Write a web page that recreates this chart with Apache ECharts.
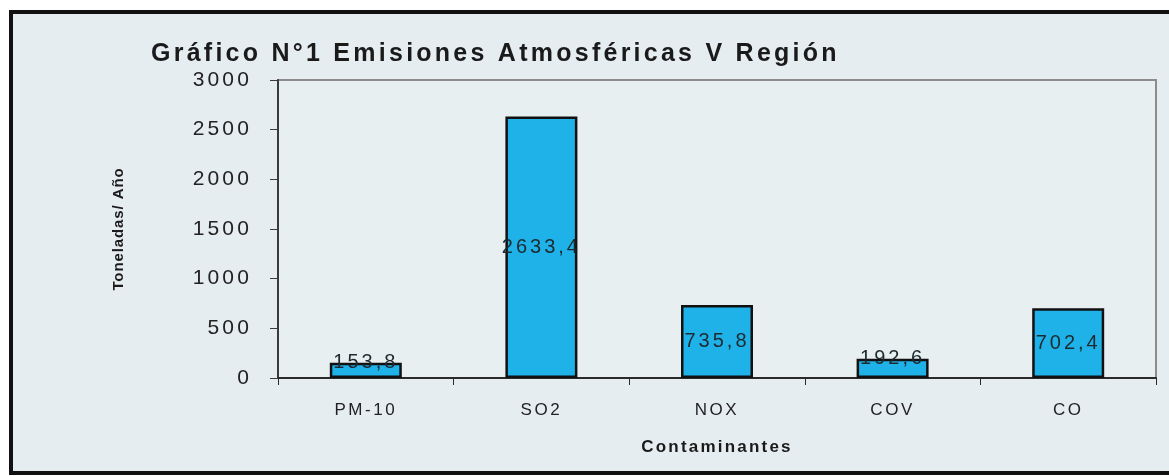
<!DOCTYPE html>
<html>
<head>
<meta charset="utf-8">
<script src="https://cdn.jsdelivr.net/npm/echarts@6/dist/echarts.min.js"></script>
<style>
html,body{margin:0;padding:0;background:#fff;}
#chart{width:1169px;height:476px;}
</style>
</head>
<body>
<div id="chart"></div>
<script>
// ---- data ----
const categories = ['PM-10', 'SO2', 'NOX', 'COV', 'CO'];
const emissions = [153.8, 2633.4, 735.8, 192.6, 702.4];
const yTicks = [0, 500, 1000, 1500, 2000, 2500, 3000];
const titleText = 'Gráfico N°1 Emisiones Atmosféricas V Región';
const yName = 'Toneladas/ Año';
const xName = 'Contaminantes';

// letter spacing for the spaced (scanned Excel) look
(function(){
  const proto = CanvasRenderingContext2D.prototype;
  const orig = proto.fillText;
  proto.fillText = function(t, x, y, m){
    const f = this.font || '';
    const mm = /(\d+(?:\.\d+)?)px/.exec(f);
    const size = mm ? parseFloat(mm[1]) : 12;
    let ls;
    if (f.indexOf('sans-serif') >= 0) ls = size * 0.06;
    else if (f.indexOf('bold') >= 0) ls = size * 0.13;
    else ls = size * 0.15;
    const prev = this.letterSpacing;
    if ('letterSpacing' in this) this.letterSpacing = ls.toFixed(2) + 'px';
    const r = m === undefined ? orig.call(this, t, x, y) : orig.call(this, t, x, y, m);
    if ('letterSpacing' in this) this.letterSpacing = prev;
    return r;
  };
})();

const FONT = 'Liberation Sans';
const chart = echarts.init(document.getElementById('chart'), null, {renderer: 'canvas'});

const yMin = yTicks[0], yMax = yTicks[yTicks.length - 1];
const yStep = yTicks[1] - yTicks[0];

const barData = emissions.map(v => ({
  value: v,
  label: v < 400
    ? {position: 'top', distance: -10}
    : {position: 'inside'}
}));

chart.setOption({
  backgroundColor: '#ffffff',
  animation: false,
  graphic: [
    {
      type: 'rect', z: -10, silent: true,
      shape: {x: 11, y: 12, width: 1200, height: 461},
      style: {fill: '#e6edf0', stroke: '#111', lineWidth: 4}
    },
    {
      type: 'text', left: 151, top: 42, z: 10,
      style: {text: titleText, fill: '#1a1a1a', font: 'bold 25px ' + FONT}
    }
  ],
  grid: {
    left: 278, right: 13, top: 80, bottom: 98,
    show: true, backgroundColor: '#e8eff1',
    borderColor: '#8c8c8c', borderWidth: 2
  },
  xAxis: {
    type: 'category',
    data: categories,
    boundaryGap: true,
    name: xName,
    nameLocation: 'middle',
    nameGap: 61,
    nameTextStyle: {fontFamily: FONT, fontWeight: 'bold', fontSize: 17, color: '#1a1a1a'},
    axisLine: {lineStyle: {color: '#2a2a2a', width: 2}},
    axisTick: {show: true, length: 7, lineStyle: {color: '#2a2a2a', width: 1}},
    axisLabel: {fontFamily: FONT, fontSize: 17, color: '#222', margin: 24}
  },
  yAxis: {
    type: 'value',
    min: yMin, max: yMax, interval: yStep,
    name: yName,
    nameLocation: 'middle',
    nameGap: 152,
    nameRotate: 90,
    nameTextStyle: {fontFamily: FONT + ', sans-serif', fontWeight: 'bold', fontSize: 15, color: '#1a1a1a'},
    axisLine: {show: true, lineStyle: {color: '#3a3a3a', width: 2}},
    axisTick: {show: true, length: 8, lineStyle: {color: '#3a3a3a', width: 1}},
    axisLabel: {fontFamily: FONT, fontSize: 21, color: '#222', margin: 26, formatter: v => String(v)},
    splitLine: {show: false}
  },
  series: [{
    type: 'bar',
    data: barData,
    barCategoryGap: '59%',
    itemStyle: {color: '#1fb2e8', borderColor: '#111', borderWidth: 2.5},
    label: {
      show: true,
      fontFamily: FONT,
      fontSize: 20,
      color: '#1d2a30',
      formatter: p => p.value.toFixed(1).replace('.', ',')
    }
  }]
});
</script>
</body>
</html>
